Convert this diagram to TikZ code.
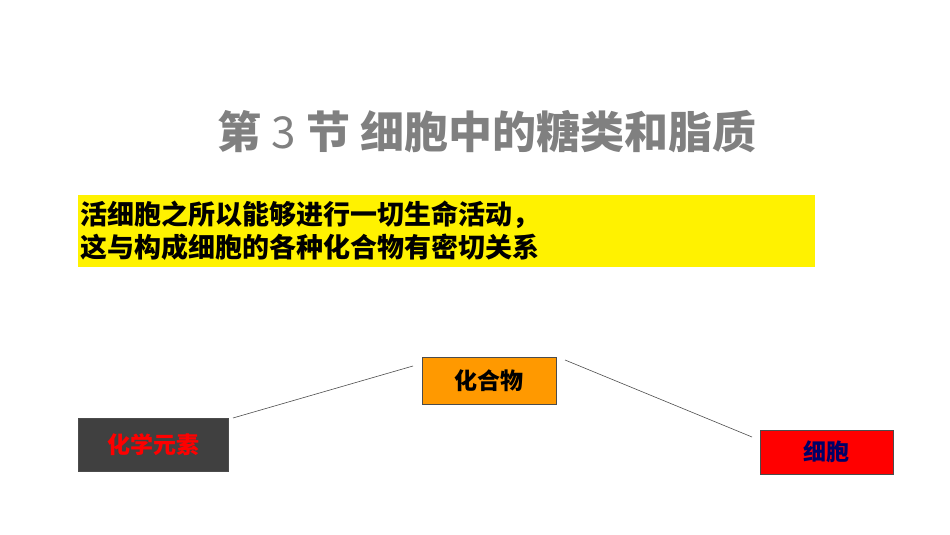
\documentclass[tikz,border=0pt]{standalone}
\usepackage{fontspec}
\setmainfont{Noto Sans CJK SC}
\newfontfamily\cjk{Noto Sans CJK SC}
\definecolor{orng}{RGB}{255,153,0}
\begin{document}
\begin{tikzpicture}[x=1pt,y=1pt,
  box/.style={draw=black!70,line width=0.6pt,minimum width=#1,minimum height=47,inner sep=0pt,font=\cjk\bfseries\fontsize{23}{26}\selectfont},
  con/.style={draw=black!70,line width=0.6pt}]
\useasboundingbox (0,0) rectangle (950,535);
\node[text=black!50,font=\cjk\bfseries\fontsize{44}{50}\selectfont] (title) at (487,403) {第 {\rmfamily\mdseries 3} 节 细胞中的糖类和脂质};
\fill[yellow] (78,268) rectangle (815,340);
\node[anchor=west,align=left,font=\cjk\bfseries\fontsize{27}{33}\selectfont,inner sep=0pt] (txt) at (80,304) {活细胞之所以能够进行一切生命活动，\\这与构成细胞的各种化合物有密切关系};
\node[box=134,fill=orng] (hhw) at (489,154.5) {化合物};
\node[box=150,minimum height=53,fill=black!75,text=red] (hxys) at (153,90.5) {化学元素};
\node[box=133,minimum height=44,fill=red,text=blue!40!black] (xb) at (826.5,83) {细胞};
\coordinate (a1) at (233,117);
\coordinate (a2) at (413,169);
\coordinate (b1) at (565,175);
\coordinate (b2) at (752,98);
\draw[con] (a1) -- (a2);
\draw[con] (b1) -- (b2);
\end{tikzpicture}
\end{document}
